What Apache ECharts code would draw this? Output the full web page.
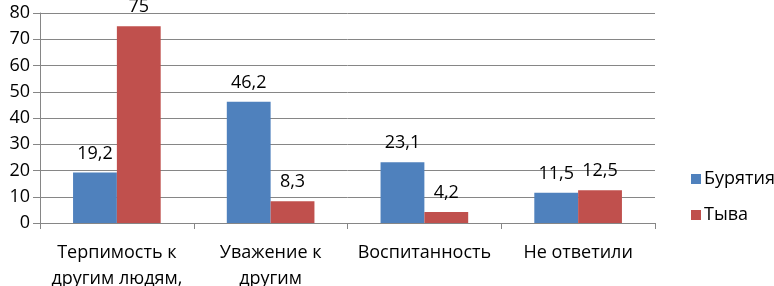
<!DOCTYPE html>
<html>
<head>
<meta charset="utf-8">
<script src="https://cdn.jsdelivr.net/npm/echarts@6/dist/echarts.min.js"></script>
<style>
html,body{margin:0;padding:0;background:#fff;}
#chart{width:774px;height:286px;}
</style>
</head>
<body>
<div id="chart"></div>
<script>
var categories = ["Терпимость к\nдругим людям,", "Уважение к\nдругим", "Воспитанность", "Не ответили"];
var seriesNames = ["Бурятия", "Тыва"];
var buryatia = [19.2, 46.2, 23.1, 11.5];
var tyva = [75, 8.3, 4.2, 12.5];
var yTicks = [0, 10, 20, 30, 40, 50, 60, 70, 80];

var FONT = "'Open Sans', sans-serif";
var chart = echarts.init(document.getElementById('chart'));
function fmt(p){ return String(p.value).replace('.', ','); }
chart.setOption({
  animation: false,
  textStyle: { fontFamily: FONT, color: '#000' },
  grid: { left: 40, right: 119, top: 13, bottom: 63, containLabel: false, outerBoundsMode: 'none' },
  legend: {
    orient: 'vertical',
    left: 686,
    top: 165,
    itemWidth: 10,
    itemHeight: 10,
    itemGap: 18,
    icon: 'rect',
    textStyle: { fontFamily: FONT, fontSize: 18, color: '#000', padding: [0,0,0,-2] },
    data: seriesNames
  },
  xAxis: {
    type: 'category',
    data: categories,
    axisLine: { lineStyle: { color: '#868686', width: 1 } },
    axisTick: { show: true, length: 6, lineStyle: { color: '#868686' } },
    axisLabel: { fontFamily: FONT, fontSize: 18, color: '#000', margin: 17, lineHeight: 26, interval: 0 }
  },
  yAxis: {
    type: 'value',
    min: yTicks[0],
    max: yTicks[yTicks.length - 1],
    interval: 10,
    axisLine: { show: true, lineStyle: { color: '#868686', width: 1 } },
    axisTick: { show: true, length: 7, lineStyle: { color: '#868686' } },
    splitLine: { lineStyle: { color: '#868686', width: 1 } },
    axisLabel: { fontFamily: FONT, fontSize: 18, color: '#000', margin: 10 }
  },
  series: [
    {
      name: seriesNames[0], type: 'bar', data: buryatia,
      itemStyle: { color: '#4F81BD' },
      barGap: '0%', barCategoryGap: '43%',
      label: { show: true, position: 'top', distance: 10, fontFamily: FONT, fontSize: 18, color: '#000', formatter: fmt }
    },
    {
      name: seriesNames[1], type: 'bar', data: tyva,
      itemStyle: { color: '#C0504D' },
      barGap: '0%', barCategoryGap: '43%',
      label: { show: true, position: 'top', distance: 10, fontFamily: FONT, fontSize: 18, color: '#000', formatter: fmt }
    }
  ]
});
</script>
</body>
</html>
